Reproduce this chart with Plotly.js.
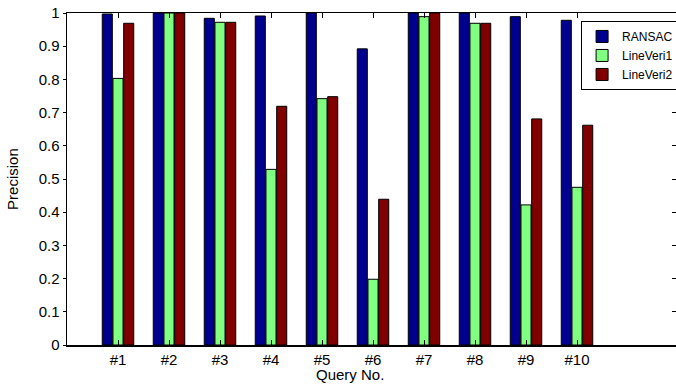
<!DOCTYPE html>
<html><head><meta charset="utf-8">
<script src="https://cdn.plot.ly/plotly-3.0.1.min.js"></script>
<style>html,body{margin:0;padding:0;overflow:hidden;background:#fff}</style>
</head><body><div id="chart"></div>
<script>
const categories = ['#1','#2','#3','#4','#5','#6','#7','#8','#9','#10'];
const catPos = [1,2,3,4,5,6,7,8,9,10];
const ransac    = [0.997, 1.0, 0.984, 0.991, 1.0, 0.892, 1.0, 1.0, 0.989, 0.978];
const lineVeri1 = [0.803, 1.0, 0.972, 0.529, 0.742, 0.198, 0.989, 0.969, 0.422, 0.475];
const lineVeri2 = [0.969, 1.0, 0.972, 0.719, 0.748, 0.439, 1.0, 0.969, 0.681, 0.662];
const yTicks = [0,0.1,0.2,0.3,0.4,0.5,0.6,0.7,0.8,0.9,1];
const yTickText = ['0','0.1','0.2','0.3','0.4','0.5','0.6','0.7','0.8','0.9','1'];

const fam = 'Liberation Sans, Arial, sans-serif';
const font = {family:fam, size:15, color:'#000'};
function bar(name, vals, color){
  return {type:'bar', name:name, x:catPos, y:vals,
    marker:{color:color, line:{color:'#000', width:1}}};
}
const data = [
  bar('RANSAC', ransac, '#00008F'),
  bar('LineVeri1', lineVeri1, '#80FF80'),
  bar('LineVeri2', lineVeri2, '#800000'),
  {type:'scatter', mode:'none', x:[0], y:[null], yaxis:'y2', showlegend:false, hoverinfo:'skip'}
];
const layout = {
  width:682, height:385,
  margin:{l:67, r:3, t:13, b:40},
  paper_bgcolor:'#fff', plot_bgcolor:'#fff',
  font:font,
  barmode:'group', bargap:0.37, bargroupgap:0.06,
  showlegend:true,
  legend:{x:0.84, y:0.976, xanchor:'left', yanchor:'top', bgcolor:'#fff',
    bordercolor:'#000', borderwidth:1, font:{family:fam, size:12, color:'#000'},
    tracegroupgap:0, itemwidth:30},
  xaxis:{range:[0,12], tickmode:'array', tickvals:catPos, ticktext:categories,
    ticks:'inside', ticklen:5, tickcolor:'#000', tickwidth:1, mirror:'ticks', showline:true,
    linecolor:'#000', linewidth:1.5, showgrid:false, zeroline:false,
    tickfont:font},
  yaxis:{range:[0,1], tickmode:'array', tickvals:yTicks, ticktext:yTickText,
    ticks:'outside', ticklen:3, tickcolor:'#000', showline:true, mirror:true,
    linecolor:'#000', linewidth:1.5, showgrid:false, zeroline:false,
    tickfont:font},
  yaxis2:{range:[0,1], overlaying:'y', side:'right', tickmode:'array', tickvals:yTicks,
    ticks:'inside', ticklen:7, tickcolor:'#000', tickwidth:1, showticklabels:false, showgrid:false,
    zeroline:false, showline:false},
  annotations:[
    {text:'Query No.', xref:'paper', yref:'paper', x:0.462, y:-0.09, yanchor:'middle',
     xanchor:'center', showarrow:false, font:{family:fam, size:15, color:'#000'}},
    {text:'Precision', xref:'paper', yref:'paper', x:-0.09, y:0.5, textangle:-90,
     xanchor:'center', yanchor:'middle', showarrow:false, font:{family:fam, size:15, color:'#000'}}
  ]
};
Plotly.newPlot('chart', data, layout, {displayModeBar:false, staticPlot:true});
</script></body></html>
